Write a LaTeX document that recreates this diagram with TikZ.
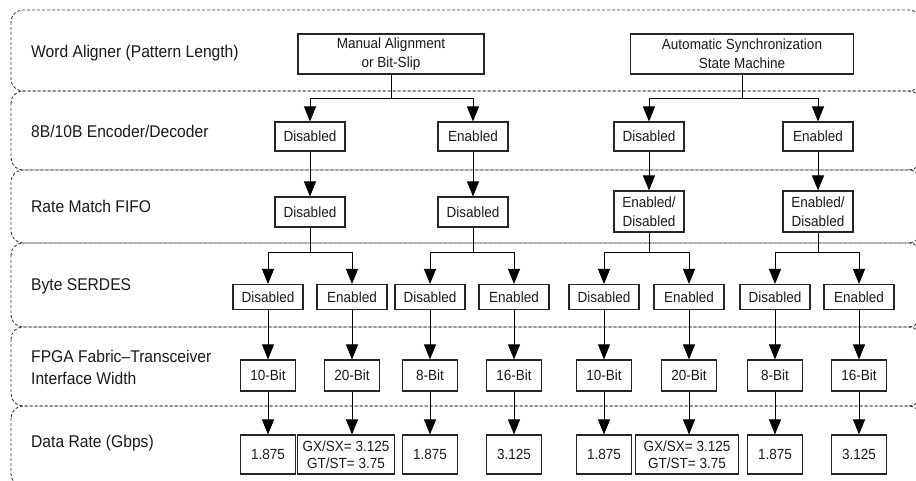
\documentclass[tikz,border=0pt]{standalone}
\usepackage{fontspec}
\setmainfont{Liberation Sans}[FakeStretch=0.92]
\usetikzlibrary{arrows.meta}
\tikzset{
  lane/.style={draw=black!75, line width=0.9pt, dash pattern=on 3pt off 2pt, rounded corners=12pt},
  lbl/.style={anchor=west, align=left, inner sep=0pt, text=black!90, font=\fontsize{17}{22}\selectfont},
  box/.style={draw=black!85, line width=1.1pt, inner sep=0pt, align=center, text=black!90,
     font=\fontsize{14.7}{19}\selectfont, minimum width=70pt, minimum height=29pt},
  conn/.style={draw=black, line width=1pt},
  arr/.style={conn, -{Triangle[width=12pt,length=15pt]}},
}
\begin{document}
\begin{tikzpicture}[x=1pt,y=-1pt]
\useasboundingbox (0,0) rectangle (916,481);
\clip (0,0) rectangle (916,481);
% lanes
\draw[lane] (11,10) rectangle (921,91);
\draw[lane] (11,91) rectangle (921,170);
\draw[lane] (11,170) rectangle (921,243);
\draw[lane] (11,243) rectangle (921,327);
\draw[lane] (11,327) rectangle (921,406);
\draw[lane] (11,406) rectangle (921,486);
% lane labels
\node[lbl] (L1) at (31,53) {Word Aligner (Pattern Length)};
\node[lbl] (L2) at (31,131) {8B/10B Encoder/Decoder};
\node[lbl] (L3) at (31,206.5) {Rate Match FIFO};
\node[lbl] (L4) at (31,286.5) {Byte SERDES};
\node[lbl] (L5) at (31,367) {FPGA Fabric–Transceiver\\Interface Width};
\node[lbl] (L6) at (31,443) {Data Rate (Gbps)};
% branch levels
\coordinate (y1) at (0,99);
\coordinate (y3) at (0,253);
% row 1
\node[box, minimum width=186pt, minimum height=40pt] (m1) at (391,54) {Manual Alignment\\or Bit-Slip};
\node[box, minimum width=223pt, minimum height=40pt] (a1) at (742,54) {Automatic Synchronization\\State Machine};
% row 2
\node[box] (d2a) at (310,136.5) {Disabled};
\node[box] (e2a) at (473,136.5) {Enabled};
\node[box] (d2b) at (649,136.5) {Disabled};
\node[box] (e2b) at (818,136.5) {Enabled};
% row 3
\node[box, minimum height=30pt] (d3a) at (310,212) {Disabled};
\node[box, minimum height=30pt] (d3b) at (473,212) {Disabled};
\node[box, minimum height=41pt] (x3a) at (649,211.5) {Enabled/\\Disabled};
\node[box, minimum height=41pt] (x3b) at (818,211.5) {Enabled/\\Disabled};
% row 4
\foreach \n/\x/\t in {1/268/Disabled,2/352/Enabled,3/430/Disabled,4/514/Enabled,5/604/Disabled,6/689/Enabled,7/775/Disabled,8/859/Enabled}
  \node[box, minimum height=25pt] (b\n) at (\x,297) {\t};
% row 5
\foreach \n/\x/\t in {1/268/10-Bit,2/352/20-Bit,3/430/8-Bit,4/514/16-Bit,5/604/10-Bit,6/689/20-Bit,7/775/8-Bit,8/859/16-Bit}
  \node[box, minimum width=55pt, minimum height=31pt] (w\n) at (\x,375.5) {\t};
% row 6
\node[box, minimum width=55pt, minimum height=39pt] (r1) at (268,454.5) {1.875};
\node[box, minimum width=97pt, minimum height=39pt] (r2) at (346,454.5) {GX/SX= 3.125\\[-2pt]GT/ST= 3.75};
\node[box, minimum width=55pt, minimum height=39pt] (r3) at (430,454.5) {1.875};
\node[box, minimum width=55pt, minimum height=39pt] (r4) at (514,454.5) {3.125};
\node[box, minimum width=55pt, minimum height=39pt] (r5) at (604,454.5) {1.875};
\node[box, minimum width=103pt, minimum height=39pt] (r6) at (687,454.5) {GX/SX= 3.125\\[-2pt]GT/ST= 3.75};
\node[box, minimum width=55pt, minimum height=39pt] (r7) at (775,454.5) {1.875};
\node[box, minimum width=55pt, minimum height=39pt] (r8) at (859,454.5) {3.125};
% connectors row1 -> row2
\draw[conn] (m1.south) -- (m1.south |- y1);
\draw[arr] (m1.south |- y1) -| (d2a.north);
\draw[arr] (m1.south |- y1) -| (e2a.north);
\draw[conn] (a1.south) -- (a1.south |- y1);
\draw[arr] (a1.south |- y1) -| (d2b.north);
\draw[arr] (a1.south |- y1) -| (e2b.north);
% row2 -> row3
\draw[arr] (d2a.south) -- (d3a.north);
\draw[arr] (e2a.south) -- (d3b.north);
\draw[arr] (d2b.south) -- (x3a.north);
\draw[arr] (e2b.south) -- (x3b.north);
% row3 -> row4
\draw[conn] (d3a.south) -- (d3a.south |- y3);
\draw[arr] (d3a.south |- y3) -| (b1.north);
\draw[arr] (d3a.south |- y3) -| (b2.north);
\draw[conn] (d3b.south) -- (d3b.south |- y3);
\draw[arr] (d3b.south |- y3) -| (b3.north);
\draw[arr] (d3b.south |- y3) -| (b4.north);
\draw[conn] (x3a.south) -- (x3a.south |- y3);
\draw[arr] (x3a.south |- y3) -| (b5.north);
\draw[arr] (x3a.south |- y3) -| (b6.north);
\draw[conn] (x3b.south) -- (x3b.south |- y3);
\draw[arr] (x3b.south |- y3) -| (b7.north);
\draw[arr] (x3b.south |- y3) -| (b8.north);
% row4 -> row5 -> row6
\foreach \n in {1,...,8} {
  \draw[arr] (b\n.south) -- (w\n.north);
  \draw[arr] (w\n.south) -- (w\n.south |- r\n.north);
}
\end{tikzpicture}
\end{document}
